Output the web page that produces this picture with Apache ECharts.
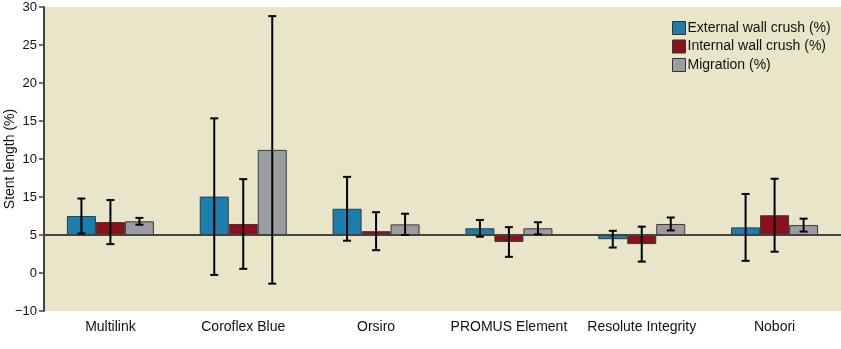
<!DOCTYPE html>
<html><head><meta charset="utf-8">
<script src="https://cdn.jsdelivr.net/npm/echarts@6/dist/echarts.min.js"></script>
<style>html,body{margin:0;padding:0;background:#fff}#c{width:841px;height:349px}</style>
</head><body><div id="c"></div>
<script>
var categories = ["Multilink", "Coroflex Blue", "Orsiro", "PROMUS Element", "Resolute Integrity", "Nobori"];
var seriesNames = ["External wall crush (%)", "Internal wall crush (%)", "Migration (%)"];
var externalMean = [2.5, 5.05, 3.45, 0.88, -0.55, 1.0];
var externalErr  = [2.3, 10.3, 4.2, 1.1, 1.1, 4.4];
var internalMean = [1.7, 1.45, 0.5, -0.92, -1.2, 2.6];
var internalErr  = [2.9, 5.9, 2.5, 1.95, 2.3, 4.8];
var migrationMean = [1.8, 11.2, 1.4, 0.88, 1.45, 1.3];
var migrationErr  = [0.45, 17.6, 1.4, 0.8, 0.85, 0.85];
var yTickLabels = ["\u221210", "0", "5", "15", "10", "15", "20", "25", "30"];
var colors = ["#1b7ead", "#8c0f1e", "#9b9c9f"];

var means = [externalMean, internalMean, migrationMean];
var errs = [externalErr, internalErr, migrationErr];
var BW = 29;
var yMin = -10, yStep = 5;

var series = [];
for (var s = 0; s < 3; s++) {
  series.push({
    name: seriesNames[s], type: 'bar', data: means[s], barWidth: BW, barGap: '0%',
    itemStyle: {color: colors[s], borderColor: '#3a3a3a', borderWidth: 1},
    z: 2,
    markLine: s === 0 ? {silent: true, symbol: ['none','none'], label: {show: false},
      lineStyle: {color: '#444', width: 2, type: 'solid'}, data: [{yAxis: 0}], z: 3} : undefined
  });
}
for (var s2 = 0; s2 < 3; s2++) {
  (function(k){
    var d = categories.map(function(c, i){ return [i, means[k][i] - errs[k][i], means[k][i] + errs[k][i]]; });
    series.push({
      type: 'custom', name: seriesNames[k] + ' err', data: d, z: 5, silent: true,
      renderItem: function(params, api){
        var x = api.value(0);
        var lo = api.coord([x, api.value(1)]);
        var hi = api.coord([x, api.value(2)]);
        var cx = lo[0] + (k - 1) * BW;
        var cap = 4;
        var st = {stroke: '#000', lineWidth: 2};
        return {type: 'group', children: [
          {type: 'line', shape: {x1: cx, y1: lo[1], x2: cx, y2: hi[1]}, style: st},
          {type: 'line', shape: {x1: cx - cap, y1: lo[1], x2: cx + cap, y2: lo[1]}, style: st},
          {type: 'line', shape: {x1: cx - cap, y1: hi[1], x2: cx + cap, y2: hi[1]}, style: st}
        ]};
      },
      encode: {x: 0, y: [1, 2]}
    });
  })(s2);
}

var chart = echarts.init(document.getElementById('c'));
chart.setOption({
  backgroundColor: '#ffffff',
  animation: false,
  textStyle: {fontFamily: 'Liberation Sans, Arial, sans-serif'},
  grid: {left: 44, right: 0, top: 7, bottom: 38, show: true, backgroundColor: '#e9e5c9', borderWidth: 0,
    containLabel: false, outerBoundsMode: 'none'},
  legend: {
    data: seriesNames, orient: 'vertical', left: 667, top: 16, icon: 'rect',
    itemWidth: 13, itemHeight: 13, itemGap: 4.5,
    textStyle: {fontSize: 14, color: '#111', padding: [0,0,0,-3]},
    itemStyle: {borderColor: '#333', borderWidth: 1}
  },
  xAxis: {
    type: 'category', data: categories,
    axisLine: {show: false}, axisTick: {show: false},
    axisLabel: {color: '#111', fontSize: 14, margin: 9, interval: 0}
  },
  yAxis: {
    type: 'value', min: yMin, max: 30, interval: yStep,
    name: 'Stent length (%)', nameLocation: 'middle', nameGap: 27, nameRotate: 90,
    nameMoveOverlap: false,
    nameTextStyle: {fontSize: 14, color: '#111'},
    axisLine: {show: true, lineStyle: {color: '#444', width: 2}},
    axisTick: {show: true, length: 5, lineStyle: {color: '#444', width: 1.5}},
    splitLine: {show: false},
    axisLabel: {color: '#111', fontSize: 13, margin: 7,
      formatter: function(v){ return yTickLabels[Math.round((v - yMin) / yStep)]; }}
  },
  series: series
});
</script></body></html>
